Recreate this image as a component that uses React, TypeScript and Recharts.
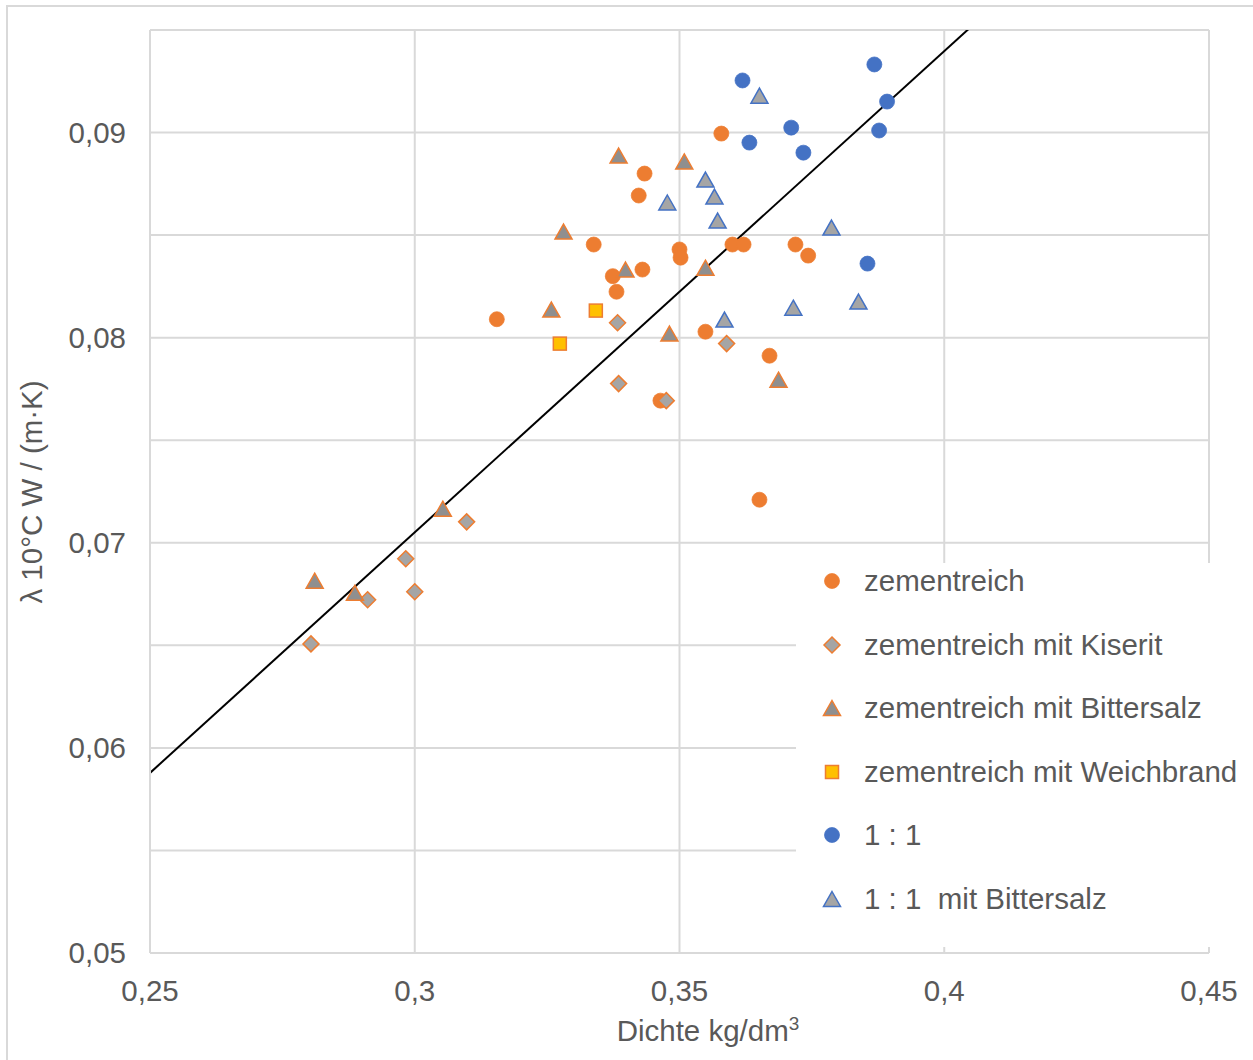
import React from "react";
import {
  ScatterChart,
  Scatter,
  XAxis,
  YAxis,
  CartesianGrid,
  ReferenceLine,
  Legend,
} from "recharts";

// values
const zementreichX = [0.3155, 0.3338, 0.3374, 0.3381, 0.343, 0.3423, 0.3434, 0.35, 0.3502, 0.3579, 0.36, 0.3621, 0.3549, 0.3464, 0.367, 0.3719, 0.3743, 0.3651];
const zementreichY = [0.0809, 0.08454, 0.083, 0.08224, 0.08332, 0.08693, 0.088, 0.0843, 0.0839, 0.08995, 0.08454, 0.08454, 0.08029, 0.07693, 0.07912, 0.08454, 0.084, 0.0721];

const kiseritX = [0.3383, 0.3589, 0.3385, 0.3475, 0.3098, 0.2983, 0.3, 0.2911, 0.2804];
const kiseritY = [0.08073, 0.07971, 0.07776, 0.07693, 0.07102, 0.06922, 0.06761, 0.06722, 0.06507];

const bittersalzX = [0.3385, 0.3509, 0.3281, 0.3398, 0.3549, 0.3258, 0.3481, 0.3687, 0.3053, 0.2811, 0.2887];
const bittersalzY = [0.08888, 0.08859, 0.08517, 0.08332, 0.08341, 0.08137, 0.0802, 0.07795, 0.07166, 0.06815, 0.06756];

const weichbrandX = [0.3342, 0.3274];
const weichbrandY = [0.08132, 0.07971];

const einsX = [0.3619, 0.3632, 0.3711, 0.3734, 0.3868, 0.3892, 0.3877, 0.3855];
const einsY = [0.09254, 0.08951, 0.09024, 0.08902, 0.09332, 0.09151, 0.0901, 0.08361];

const einsBitterX = [0.3651, 0.3549, 0.3566, 0.3477, 0.3572, 0.3787, 0.3715, 0.3838, 0.3585];
const einsBitterY = [0.0918, 0.08771, 0.08688, 0.08659, 0.08571, 0.08537, 0.08146, 0.08176, 0.08088];

const xTicks = [0.25, 0.3, 0.35, 0.4, 0.45];
const yTicks = [0.05, 0.055, 0.06, 0.065, 0.07, 0.075, 0.08, 0.085, 0.09, 0.095];
const yLabelTicks = [0.05, 0.06, 0.07, 0.08, 0.09];

// linear trend line
const trendX = [0.25, 0.45];
const trendStart = 0.05878;
const trendSlope = 0.2346;

const ORANGE = "#ED7D31";
const BLUE = "#4472C4";
const TEXT = "#595959";
const GRID = "#d9d9d9";
const FONT = "'Liberation Sans', Arial, sans-serif";
const FS = 29.5;

type Kind = "circle" | "diamond" | "triangle" | "square";

const toPoints = (xs: number[], ys: number[]) => xs.map((x, i) => ({ x, y: ys[i] }));

const series = [
  { name: "zementreich", data: toPoints(zementreichX, zementreichY), kind: "circle" as Kind, fill: ORANGE, stroke: ORANGE },
  { name: "zementreich mit Kiserit", data: toPoints(kiseritX, kiseritY), kind: "diamond" as Kind, fill: "#A5A5A5", stroke: ORANGE },
  { name: "zementreich mit Bittersalz", data: toPoints(bittersalzX, bittersalzY), kind: "triangle" as Kind, fill: "#8f8f8f", stroke: ORANGE },
  { name: "zementreich mit Weichbrand", data: toPoints(weichbrandX, weichbrandY), kind: "square" as Kind, fill: "#FFC000", stroke: ORANGE },
  { name: "1 : 1", data: toPoints(einsX, einsY), kind: "circle" as Kind, fill: BLUE, stroke: BLUE },
  { name: "1 : 1  mit Bittersalz", data: toPoints(einsBitterX, einsBitterY), kind: "triangle" as Kind, fill: "#A5A5A5", stroke: BLUE },
];

function Marker({ cx, cy, kind, fill, stroke }: { cx: number; cy: number; kind: Kind; fill: string; stroke: string }) {
  if (cx == null || cy == null) return null;
  if (kind === "circle") return <circle cx={cx} cy={cy} r={7.5} fill={fill} stroke={stroke} strokeWidth={0.75} />;
  if (kind === "diamond")
    return (
      <polygon
        points={`${cx},${cy - 8} ${cx + 8},${cy} ${cx},${cy + 8} ${cx - 8},${cy}`}
        fill={fill}
        stroke={stroke}
        strokeWidth={1.5}
      />
    );
  if (kind === "triangle")
    return (
      <polygon
        points={`${cx},${cy - 7.5} ${cx + 8.5},${cy + 7.5} ${cx - 8.5},${cy + 7.5}`}
        fill={fill}
        stroke={stroke}
        strokeWidth={1.5}
      />
    );
  return <rect x={cx - 6.5} y={cy - 6.5} width={13} height={13} fill={fill} stroke={stroke} strokeWidth={1.5} />;
}

const fmt = (v: number) => String(v).replace(".", ",");

function LegendBox() {
  return (
    <div style={{ position: "relative", width: 445, height: 384, background: "#fff" }}>
      {series.map((s, i) => (
        <div
          key={s.name}
          style={{
            position: "absolute",
            left: 0,
            top: 18 + i * 63.6 - 20,
            height: 40,
            display: "flex",
            alignItems: "center",
            whiteSpace: "pre",
          }}
        >
          <svg width={68} height={40} style={{ display: "block" }}>
            <Marker cx={36} cy={20} kind={s.kind} fill={s.fill} stroke={s.stroke} />
          </svg>
          <span style={{ fontFamily: FONT, fontSize: FS, color: TEXT }}>{s.name}</span>
        </div>
      ))}
    </div>
  );
}

function YTitle() {
  const cx = 31;
  const cy = 492;
  return (
    <text
      x={cx}
      y={cy}
      transform={`rotate(-90 ${cx} ${cy})`}
      textAnchor="middle"
      dominantBaseline="central"
      fill={TEXT}
      fontSize={FS}
      fontFamily={FONT}
    >
      λ 10°C W / (m·K)
    </text>
  );
}

function XTitle() {
  return (
    <text x={708} y={1041} textAnchor="middle" fill={TEXT} fontSize={FS} fontFamily={FONT}>
      Dichte kg/dm<tspan fontSize={19} dy={-11}>3</tspan>
    </text>
  );
}

export default function App() {
  return (
    <div style={{ position: "absolute", left: 0, top: 0, width: 1253, height: 1060, overflow: "hidden", background: "#fff" }}>
      <div
        style={{
          position: "absolute",
          left: 6,
          top: 5,
          width: 1300,
          height: 1100,
          borderLeft: `2px solid ${GRID}`,
          borderTop: `2px solid ${GRID}`,
        }}
      />
      <div style={{ position: "absolute", left: 0, top: 0 }}>
        <ScatterChart width={1253} height={1060} margin={{ top: 30, right: 44, bottom: 47, left: 0 }}>
          <CartesianGrid stroke={GRID} strokeWidth={2} />
          <XAxis
            type="number"
            dataKey="x"
            domain={[0.25, 0.45]}
            ticks={xTicks}
            tickFormatter={fmt}
            height={60}
            tickLine={false}
            tickSize={0}
            tickMargin={27}
            axisLine={{ stroke: GRID, strokeWidth: 2 }}
            tick={{ fill: TEXT, fontSize: FS, fontFamily: FONT }}
            allowDataOverflow
            label={<XTitle />}
          />
          <YAxis
            type="number"
            dataKey="y"
            domain={[0.05, 0.095]}
            ticks={yTicks}
            tickFormatter={(v: number) => (yLabelTicks.some((t) => Math.abs(t - v) < 1e-9) ? fmt(v) : "")}
            width={150}
            tickLine={false}
            tickSize={0}
            tickMargin={24}
            axisLine={{ stroke: GRID, strokeWidth: 2 }}
            tick={{ fill: TEXT, fontSize: FS, fontFamily: FONT }}
            allowDataOverflow
            label={<YTitle />}
          />
          {series.map((s) => (
            <Scatter
              key={s.name}
              name={s.name}
              data={s.data}
              isAnimationActive={false}
              shape={(p: any) => <Marker cx={p.cx} cy={p.cy} kind={s.kind} fill={s.fill} stroke={s.stroke} />}
            />
          ))}
          <ReferenceLine
            segment={trendX.map((x) => ({ x, y: trendStart + trendSlope * (x - trendX[0]) }))}
            stroke="#000"
            strokeWidth={2}
            ifOverflow="hidden"
          />
          <Legend
            layout="horizontal"
            verticalAlign="middle"
            align="center"
            content={() => <LegendBox />}
            wrapperStyle={{ position: "absolute", left: 796, top: 563, width: 445, height: 384 }}
          />
        </ScatterChart>
      </div>
    </div>
  );
}
